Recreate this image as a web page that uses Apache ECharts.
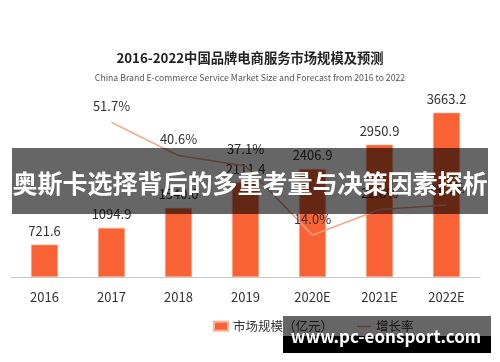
<!DOCTYPE html>
<html>
<head>
<meta charset="utf-8">
<script src="https://cdn.jsdelivr.net/npm/echarts@6/dist/echarts.min.js"></script>
<style>
html,body{margin:0;padding:0;background:#fff;}
#c{width:500px;height:362px;}
</style>
</head>
<body>
<div id="c"></div>
<script>
var categories = ['2016', '2017', '2018', '2019', '2020E', '2021E', '2022E'];
var marketSize = [721.6, 1094.9, 1540.0, 2111.4, 2406.9, 2950.9, 3663.2];
var growthRate = [null, 51.7, 40.6, 37.1, 14.0, 22.6, 24.1];
var seriesNames = ['市场规模（亿元）', '增长率'];
var titleText = '2016-2022中国品牌电商服务市场规模及预测';
var subtitleText = 'China Brand E-commerce Service Market Size and Forecast from 2016 to 2022';
var bannerText = '奥斯卡选择背后的多重考量与决策因素探析';
var watermarkText = 'www.pc-eonsport.com';

var FONT = '"Noto Sans CJK SC", "Noto Sans", sans-serif';
var LINE_COLOR = '#F3A081';
var chart = echarts.init(document.getElementById('c'), null, {renderer: 'canvas'});
chart.setOption({
  animation: false,
  backgroundColor: '#fff',
  textStyle: {fontFamily: FONT},
  title: [{
    text: titleText,
    left: 245, top: 46, textAlign: 'center',
    textStyle: {fontSize: 13.3, fontWeight: 'bold', color: '#222', fontFamily: FONT}
  }, {
    text: subtitleText,
    left: 245, top: 68, textAlign: 'center',
    textStyle: {fontSize: 8.7, fontWeight: 'normal', color: '#555', fontFamily: FONT}
  }],
  legend: {
    left: 213, top: 320, padding: 0,
    itemWidth: 14, itemHeight: 9, itemGap: 24,
    textStyle: {fontSize: 12.5, color: '#333', fontFamily: FONT},
    data: [
      {name: seriesNames[0], icon: 'rect'},
      {name: seriesNames[1], icon: 'path://M0,0 L0.01,0 L0,0.01 Z M0,4 L14,4 L14,5.4 L0,5.4 Z M14,9 L13.99,9 L14,8.99 Z'}
    ]
  },
  grid: {left: 11, right: 20, top: 97.6, bottom: 85, containLabel: false},
  xAxis: {
    type: 'category',
    data: categories,
    axisLine: {lineStyle: {color: '#c8c8c8', width: 1}},
    axisTick: {show: false},
    axisLabel: {fontSize: 13, color: '#333', margin: 14, fontFamily: FONT}
  },
  yAxis: [{
    type: 'value', min: 0, max: 4000, show: false, splitLine: {show: false}
  }, {
    type: 'value', min: 0, max: 60, show: false, splitLine: {show: false}
  }],
  series: [{
    name: seriesNames[0],
    type: 'bar',
    data: marketSize,
    barWidth: 27,
    itemStyle: {color: '#F96234', borderColor: '#FBB49A', borderWidth: 0.6},
    label: {show: true, position: 'top', distance: 7, fontSize: 13, color: '#333', fontFamily: FONT,
      formatter: function(p){ return p.value.toFixed(1); }}
  }, {
    name: seriesNames[1],
    type: 'line',
    yAxisIndex: 1,
    data: growthRate,
    symbol: 'circle',
    symbolSize: 0.1,
    showSymbol: true,
    connectNulls: false,
    lineStyle: {color: LINE_COLOR, width: 1.5},
    itemStyle: {color: LINE_COLOR},
    label: {show: true, position: 'top', distance: 10, fontSize: 13, color: '#333', fontFamily: FONT,
      formatter: function(p){ return p.value == null ? '' : p.value.toFixed(1) + '%'; }}
  }],
  graphic: [{
    type: 'rect', z: 100,
    shape: {x: 12, y: 148, width: 476, height: 66},
    style: {fill: 'rgba(0,0,0,0.6)'}
  }, {
    type: 'text', z: 101,
    x: 250, y: 183,
    style: {text: bannerText, fill: '#fff', font: 'bold 25px ' + FONT, align: 'center', verticalAlign: 'middle'}
  }, {
    type: 'rect', z: 100,
    shape: {x: 283, y: 316, width: 208, height: 20},
    style: {fill: 'rgba(0,0,0,0.6)'}
  }, {
    type: 'rect', z: 100,
    shape: {x: 283, y: 336, width: 208, height: 17},
    style: {fill: '#000'}
  }, {
    type: 'text', z: 101,
    x: 386, y: 337,
    style: {text: watermarkText, fill: '#fff', font: 'bold 17px ' + FONT, align: 'center', verticalAlign: 'middle'}
  }]
});
</script>
</body>
</html>
